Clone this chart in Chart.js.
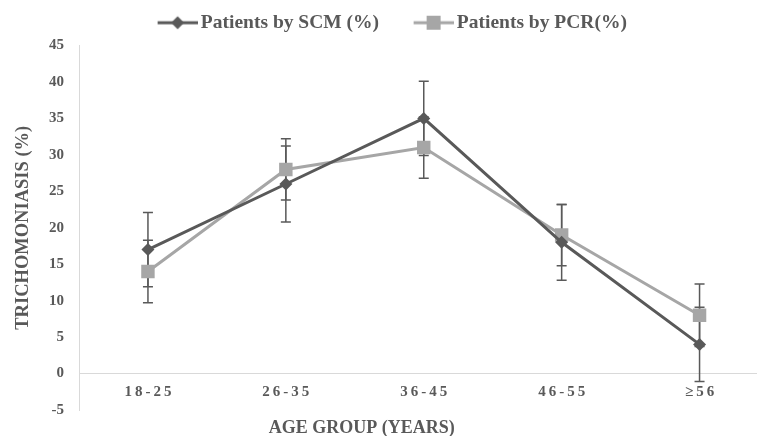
<!DOCTYPE html>
<html>
<head>
<meta charset="utf-8">
<script src="https://cdn.jsdelivr.net/npm/chart.js@4.4.1/dist/chart.umd.min.js"></script>
<style>
  html, body { margin: 0; padding: 0; background: #fff; overflow: hidden; }
  #wrap { width: 778px; height: 436px; }
</style>
</head>
<body>
<div id="wrap"><canvas id="myChart"></canvas></div>
<script>
const ageGroups = ['18-25', '26-35', '36-45', '46-55', '≥56'];
const scmValues = [17, 26, 35, 18, 4];
const pcrValues = [14, 28, 31, 19, 8];
const scmErrors = [5.1, 5.2, 5.1, 5.2, 5.1];
const pcrErrors = [4.3, 4.2, 4.2, 4.2, 4.3];
const yMin = -5, yMax = 45, yStep = 5;

const darkGray = '#595959';
const lightGray = '#A6A6A6';
const textGray = '#595959';
const serif = "'Liberation Serif', 'Times New Roman', serif";

// line+marker picture for the legend (blank on the left gives the gap between items)
function legendIcon(color, shape) {
  const c = document.createElement('canvas');
  c.width = 69; c.height = 16;
  const g = c.getContext('2d');
  g.strokeStyle = color;
  g.lineWidth = 3;
  g.beginPath(); g.moveTo(29, 8); g.lineTo(69, 8); g.stroke();
  g.fillStyle = color;
  if (shape === 'diamond') {
    g.beginPath();
    g.moveTo(49, 1.5); g.lineTo(55.5, 8); g.lineTo(49, 14.5); g.lineTo(42.5, 8);
    g.closePath(); g.fill();
  } else {
    g.fillRect(42, 1, 14, 14);
  }
  return c;
}

const errorBars = {
  id: 'errorBars',
  beforeDatasetsDraw(chart) {
    const ctx = chart.ctx;
    const y = chart.scales.y;
    ctx.save();
    ctx.strokeStyle = darkGray;
    ctx.lineWidth = 1.5;
    chart.data.datasets.forEach((ds, i) => {
      const meta = chart.getDatasetMeta(i);
      meta.data.forEach((pt, j) => {
        const v = ds.data[j], e = ds.errors[j];
        const top = y.getPixelForValue(v + e);
        const bot = y.getPixelForValue(v - e);
        const px = pt.x;
        ctx.beginPath();
        ctx.moveTo(px, top); ctx.lineTo(px, bot);
        ctx.moveTo(px - 5, top); ctx.lineTo(px + 5, top);
        ctx.moveTo(px - 5, bot); ctx.lineTo(px + 5, bot);
        ctx.stroke();
      });
    });
    ctx.restore();
  }
};

// nudge the legend a little up and left, where the original has it
const legendNudge = {
  id: 'legendNudge',
  afterLayout(chart) {
    const lg = chart.legend;
    lg.left -= 13; lg.right -= 13;
    lg.top -= 3; lg.bottom -= 3;
  }
};

// x axis title sits under the plot, a bit left of centre like the original
const xTitle = {
  id: 'xTitle',
  afterDraw(chart) {
    const ctx = chart.ctx;
    const a = chart.chartArea;
    ctx.save();
    ctx.fillStyle = textGray;
    ctx.font = 'bold 18px ' + serif;
    ctx.textAlign = 'center';
    ctx.textBaseline = 'middle';
    ctx.fillText('AGE GROUP (YEARS)', a.left + (a.right - a.left) * 0.41, a.bottom + 18);
    ctx.restore();
  }
};

const data = {
  labels: ageGroups,
  datasets: [{
    label: 'Patients by SCM (%)',
    data: scmValues,
    errors: scmErrors,
    borderColor: darkGray,
    backgroundColor: darkGray,
    borderWidth: 3,
    pointStyle: 'rectRot',
    pointRadius: 6.5,
    pointHoverRadius: 6.5,
    pointBorderWidth: 0,
    tension: 0,
    order: 1
  }, {
    label: 'Patients by PCR(%)',
    data: pcrValues,
    errors: pcrErrors,
    borderColor: lightGray,
    backgroundColor: lightGray,
    borderWidth: 3,
    pointStyle: 'rect',
    pointRadius: 9.5,
    pointHoverRadius: 9.5,
    pointBorderWidth: 0,
    tension: 0,
    order: 2
  }]
};

const icons = [legendIcon(darkGray, 'diamond'), legendIcon(lightGray, 'square')];

const config = {
  type: 'line',
  data: data,
  plugins: [errorBars, legendNudge, xTitle],
  options: {
    responsive: true,
    maintainAspectRatio: false,
    animation: false,
    layout: { padding: { left: 12, right: 2, top: 4, bottom: 26 } },
    plugins: {
      legend: {
        position: 'top',
        labels: {
          usePointStyle: true,
          pointStyleWidth: 56,
          padding: 12,
          color: textGray,
          font: { family: serif, size: 19.5, weight: 'bold' },
          generateLabels(chart) {
            return chart.data.datasets.map((ds, i) => ({
              text: ds.label,
              pointStyle: icons[i],
              fillStyle: ds.borderColor,
              strokeStyle: ds.borderColor,
              lineWidth: 0,
              fontColor: textGray,
              datasetIndex: i,
              hidden: false
            }));
          }
        }
      },
      title: { display: false },
      tooltip: { enabled: false }
    },
    scales: {
      x: {
        position: { y: 0 },
        offset: true,
        grid: { display: false, drawTicks: false },
        border: { display: true, color: '#D9D9D9', width: 1 },
        ticks: {
          color: textGray,
          padding: 10,
          font: { family: serif, size: 15, weight: 'bold' },
          callback: (v, i) => ageGroups[i].split('').join('\u2009')
        }
      },
      y: {
        min: yMin,
        max: yMax,
        grid: { display: false, drawTicks: false },
        border: { display: true, color: '#D9D9D9', width: 1 },
        afterFit(scale) { scale.width = 67; },
        ticks: {
          stepSize: yStep,
          color: textGray,
          padding: 15,
          font: { family: serif, size: 15, weight: 'bold' }
        },
        title: {
          display: true,
          text: 'TRICHOMONIASIS (%)',
          color: textGray,
          font: { family: serif, size: 18.5, weight: 'bold' },
          padding: { top: 0, bottom: 4 }
        }
      }
    }
  }
};

const myChart = new Chart(document.getElementById('myChart'), config);
</script>
</body>
</html>
